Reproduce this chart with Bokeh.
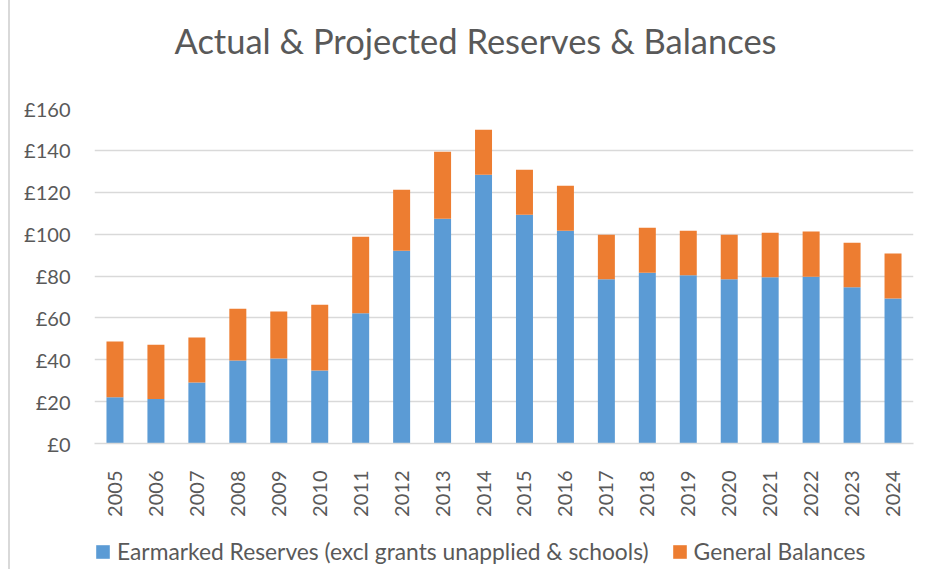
from bokeh.plotting import figure
from bokeh.layouts import column
from bokeh.models import ColumnDataSource, FactorRange, Range1d, Legend, LegendItem, NumeralTickFormatter, FixedTicker, Title
from bokeh.embed import file_html
from bokeh.resources import INLINE

years = ["2005", "2006", "2007", "2008", "2009", "2010", "2011", "2012", "2013", "2014",
         "2015", "2016", "2017", "2018", "2019", "2020", "2021", "2022", "2023", "2024"]
earmarked = [22.1, 21.2, 29.1, 39.6, 40.6, 34.9, 62.2, 92.1, 107.4, 128.4,
             109.3, 101.6, 78.4, 81.6, 80.3, 78.4, 79.4, 79.7, 74.6, 69.2]
totals = [48.7, 47.2, 50.6, 64.4, 63.0, 66.3, 98.8, 121.2, 139.3, 149.8,
          130.7, 123.1, 99.7, 103.1, 101.6, 99.7, 100.7, 101.2, 95.9, 90.7]
general = [round(t - e, 1) for t, e in zip(totals, earmarked)]
y_ticks = [0, 20, 40, 60, 80, 100, 120, 140, 160]
series_names = ["Earmarked Reserves (excl grants unapplied & schools)", "General Balances"]
title_text = "Actual & Projected Reserves & Balances"

FONT = "Lato"
TXT = "#595959"
BLUE = "#5B9BD5"
ORANGE = "#ED7D31"
EDGE = {"margin-left": "8px", "border-left": "2px solid #d9d9d9"}

src = ColumnDataSource(dict(year=years, earmarked=earmarked, general=general))

p = figure(x_range=FactorRange(*years, range_padding=0), y_range=Range1d(0, 160),
           width=911, height=537, output_backend="svg", toolbar_location=None,
           min_border_left=83, min_border_right=8, min_border_top=108, min_border_bottom=94,
           title=None, styles=EDGE)
p.outline_line_color = None

r = p.vbar_stack(["earmarked", "general"], x="year", width=0.415, source=src,
                 color=[BLUE, ORANGE], line_color=None)

spacer = Title(text=" ", text_font_size="10px", standoff=30)
p.add_layout(spacer, "above")
main_title = Title(text=title_text, align="left", offset=80, text_font=FONT,
                   text_font_size="34.5px", text_font_style="normal", text_color=TXT, standoff=10)
p.add_layout(main_title, "above")

p.yaxis.ticker = FixedTicker(ticks=y_ticks)
p.yaxis.formatter = NumeralTickFormatter(format="0")
p.yaxis.major_label_overrides = {t: "£" + str(t) for t in y_ticks}
p.yaxis.axis_line_color = None
p.yaxis.major_tick_line_color = None
p.yaxis.minor_tick_line_color = None
p.yaxis.major_label_standoff = 18
p.yaxis.major_label_text_font = FONT
p.yaxis.major_label_text_font_size = "20px"
p.yaxis.major_label_text_color = TXT

p.xaxis.axis_line_color = "#d9d9d9"
p.xaxis.axis_line_width = 1.5
p.xaxis.major_tick_line_color = None
p.xaxis.minor_tick_line_color = None
p.xaxis.major_label_orientation = 1.5708
p.xaxis.major_label_standoff = 21
p.xaxis.major_label_text_font = FONT
p.xaxis.major_label_text_font_size = "20px"
p.xaxis.major_label_text_color = TXT

p.xgrid.grid_line_color = None
p.ygrid.grid_line_color = "#d9d9d9"
p.ygrid.grid_line_width = 1.5

# legend strip: same series drawn off-range so only the legend shows
lf = figure(x_range=FactorRange(*years, range_padding=0), y_range=Range1d(1000, 1001),
            width=911, height=32, output_backend="svg", toolbar_location=None,
            min_border_left=84, min_border_right=8, min_border_top=0, min_border_bottom=0,
            x_axis_location=None, y_axis_location=None, styles=EDGE)
lf.outline_line_color = None
lf.xgrid.grid_line_color = None
lf.ygrid.grid_line_color = None
lr = lf.vbar_stack(["earmarked", "general"], x="year", width=0.415, source=src,
                   color=[BLUE, ORANGE], line_color=None)

legend = Legend(items=[LegendItem(label=series_names[0], renderers=[lr[0]]),
                       LegendItem(label=series_names[1], renderers=[lr[1]])],
                orientation="horizontal", location="top_left")
legend.label_text_font = FONT
legend.label_text_font_size = "22.8px"
legend.label_text_color = TXT
legend.glyph_width = 17
legend.glyph_height = 17
legend.label_standoff = 6
legend.spacing = 22
legend.padding = 0
legend.margin = 0
legend.border_line_color = None
legend.background_fill_alpha = 0
lf.add_layout(legend, "center")

layout = column(p, lf, spacing=0)
open("out.html", "w").write(file_html(layout, INLINE))
